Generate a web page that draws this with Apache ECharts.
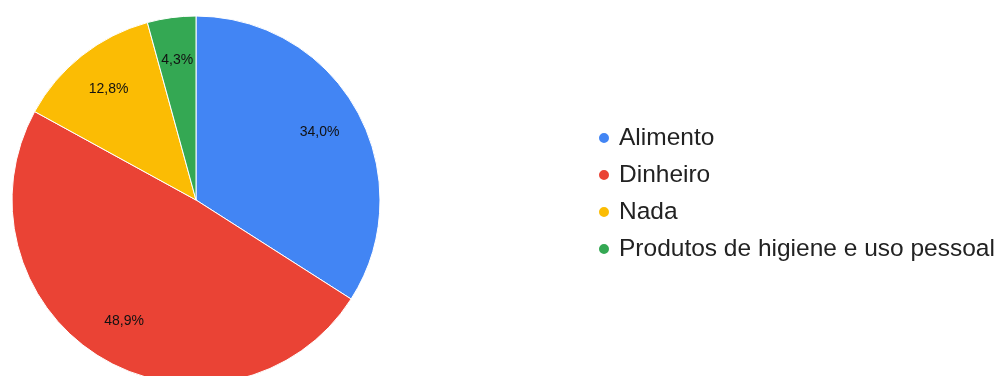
<!DOCTYPE html>
<html>
<head>
<meta charset="utf-8">
<script src="https://cdn.jsdelivr.net/npm/echarts@6/dist/echarts.min.js"></script>
<style>
  html, body { margin: 0; padding: 0; background: #fff; }
  #chart { width: 1003px; height: 376px; }
</style>
</head>
<body>
<div id="chart"></div>
<script>
// Respostas (contagens) por categoria
const categories = ['Alimento', 'Dinheiro', 'Nada', 'Produtos de higiene e uso pessoal'];
const counts = [16, 23, 6, 2];
const colors = ['#4285F4', '#EA4335', '#FBBC04', '#34A853'];

const total = counts.reduce((a, b) => a + b, 0);
const pieData = categories.map((name, i) => ({ name, value: counts[i] }));

const chart = echarts.init(document.getElementById('chart'), null, { renderer: 'canvas' });

chart.setOption({
  animation: false,
  color: colors,
  textStyle: { fontFamily: 'Liberation Sans, Arial, sans-serif' },
  legend: {
    orient: 'vertical',
    left: 597,
    top: 125.5,
    padding: 0,
    icon: 'circle',
    itemWidth: 12,
    itemHeight: 12,
    itemGap: 12,
    selectedMode: false,
    data: categories,
    textStyle: {
      fontSize: 24.5,
      lineHeight: 24,
      color: '#222',
      padding: [0, 0, 0, 4],
      fontFamily: 'Liberation Sans, Arial, sans-serif'
    }
  },
  series: [
    {
      // fatias
      type: 'pie',
      center: [196, 200],
      radius: [0, 184],
      startAngle: 90,
      clockwise: true,
      silent: true,
      label: { show: false },
      labelLine: { show: false },
      itemStyle: { borderColor: '#fff', borderWidth: 1 },
      data: pieData
    },
    {
      // anel transparente que posiciona os rótulos de percentagem
      type: 'pie',
      center: [196, 200],
      radius: [92, 184],
      startAngle: 90,
      clockwise: true,
      silent: true,
      itemStyle: { color: 'rgba(0,0,0,0)' },
      labelLine: { show: false },
      label: {
        show: true,
        position: 'inside',
        fontSize: 14,
        color: '#111',
        fontFamily: 'Liberation Sans, Arial, sans-serif',
        formatter: p => (p.value / total * 100).toFixed(1).replace('.', ',') + '%'
      },
      data: pieData
    }
  ]
});
</script>
</body>
</html>
